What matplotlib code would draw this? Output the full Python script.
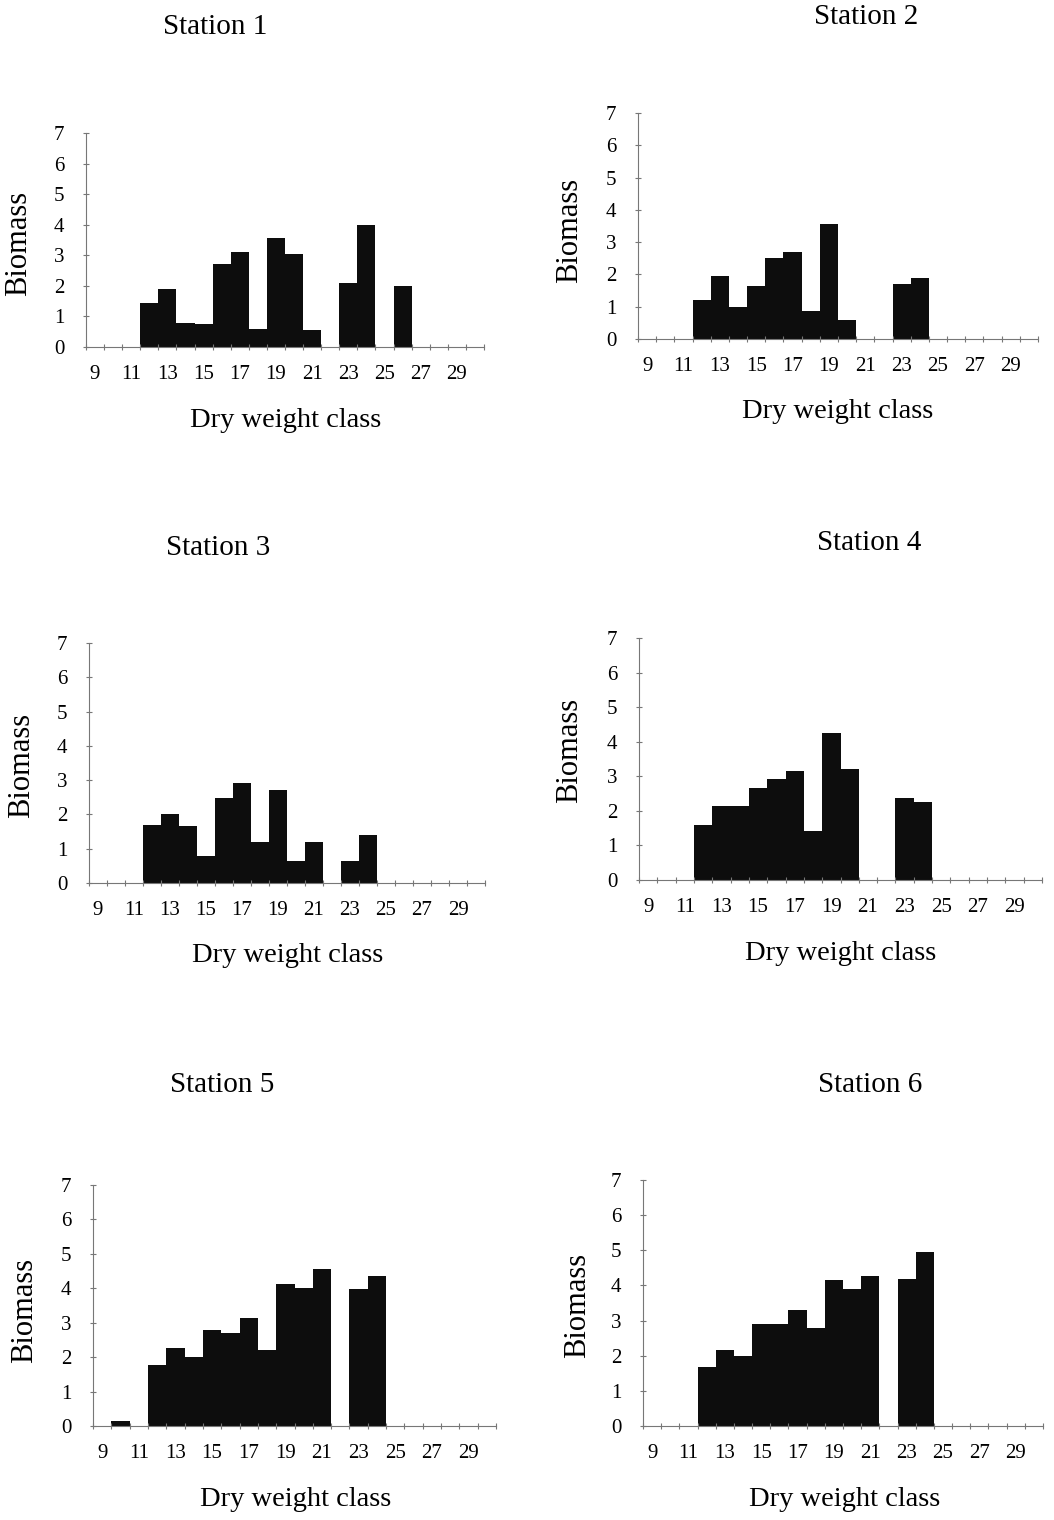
import matplotlib
matplotlib.use("Agg")
import matplotlib.pyplot as plt

plt.rcParams['font.family'] = ['Liberation Serif', 'DejaVu Serif']

### Data ###

# dry weight classes on the x axis
classes = list(range(9, 31))
tick_labels = [str(c) for c in range(9, 30, 2)]

# biomass per class, one list per station (classes 9..30)
station1 = [0, 0, 0, 1.45, 1.9, 0.8, 0.75, 2.7, 3.1, 0.6, 3.55, 3.05,
            0.55, 0, 2.1, 4.0, 0, 2.0, 0, 0, 0, 0]
station2 = [0, 0, 0, 1.2, 1.95, 1.0, 1.65, 2.5, 2.7, 0.87, 3.56, 0.58,
            0, 0, 1.7, 1.9, 0, 0, 0, 0, 0, 0]
station3 = [0, 0, 0, 1.7, 2.0, 1.65, 0.78, 2.47, 2.92, 1.2, 2.7, 0.63,
            1.21, 0, 0.63, 1.4, 0, 0, 0, 0, 0, 0]
station4 = [0, 0, 0, 1.58, 2.14, 2.14, 2.67, 2.92, 3.14, 1.41, 4.24, 3.21,
            0, 0, 2.36, 2.25, 0, 0, 0, 0, 0, 0]
station5 = [0, 0.15, 0, 1.77, 2.27, 1.99, 2.79, 2.69, 3.15, 2.22, 4.12, 4.0,
            4.57, 0, 3.97, 4.36, 0, 0, 0, 0, 0, 0]
station6 = [0, 0, 0, 1.67, 2.16, 2.0, 2.91, 2.91, 3.3, 2.79, 4.15, 3.89,
            4.27, 0, 4.17, 4.96, 0, 0, 0, 0, 0, 0]

titles = ['Station 1', 'Station 2', 'Station 3',
          'Station 4', 'Station 5', 'Station 6']
series = [station1, station2, station3, station4, station5, station6]

### Layout (pixels in a 1054 x 1520 picture) ###

W, H = 1054, 1520
# axes box: left, right, y of 0, y of 7
boxes = [(86, 484, 347, 133), (638, 1038, 339, 113),
         (89, 485, 883, 643), (639, 1042, 880, 638),
         (93, 496, 1426, 1185), (643, 1043, 1426, 1180)]
title_pos = [(215, 27), (866, 17), (218, 548), (869, 543), (222, 1085), (870, 1085)]
xlabel_pos = [(286, 420), (838, 412), (288, 956), (841, 954), (296, 1500), (845, 1500)]
ylabel_pos = [(19, 243), (570, 230), (22, 765), (570, 750), (25, 1310), (578, 1305)]

fig = plt.figure(figsize=(W / 100, H / 100), dpi=100)

for i in range(6):
    left, right, y0, y7 = boxes[i]
    ax = fig.add_axes([left / W, 1 - y0 / H, (right - left) / W, (y0 - y7) / H])

    ax.bar(classes, series[i], width=1.0, color='#0d0d0d', edgecolor='none')

    ax.set_xlim(8.5, 30.5)
    ax.set_ylim(0, 7)

    # labels on odd classes, tick marks at the class boundaries
    ax.set_xticks(range(9, 30, 2))
    ax.set_xticklabels(tick_labels)
    ax.set_xticks([c - 0.5 for c in classes] + [30.5], minor=True)
    ax.tick_params(axis='x', which='major', length=0, pad=13, labelsize=15)
    ax.tick_params(axis='x', which='minor', length=5, direction='inout',
                   color='#777777', width=0.8)
    ax.set_yticks(range(0, 8))
    ax.tick_params(axis='y', length=5, direction='inout', color='#777777',
                   width=0.8, pad=13, labelsize=15)

    for side in ['top', 'right']:
        ax.spines[side].set_visible(False)
    for side in ['left', 'bottom']:
        ax.spines[side].set_color('#777777')
        ax.spines[side].set_linewidth(0.8)

    fig.text(title_pos[i][0] / W, 1 - title_pos[i][1] / H, titles[i],
             ha='center', va='center', fontsize=21)
    fig.text(xlabel_pos[i][0] / W, 1 - xlabel_pos[i][1] / H, 'Dry weight class',
             ha='center', va='center', fontsize=20.5)
    fig.text(ylabel_pos[i][0] / W, 1 - ylabel_pos[i][1] / H, 'Biomass',
             ha='center', va='center', rotation=90, fontsize=22)

fig.savefig('out.png', dpi=100)
